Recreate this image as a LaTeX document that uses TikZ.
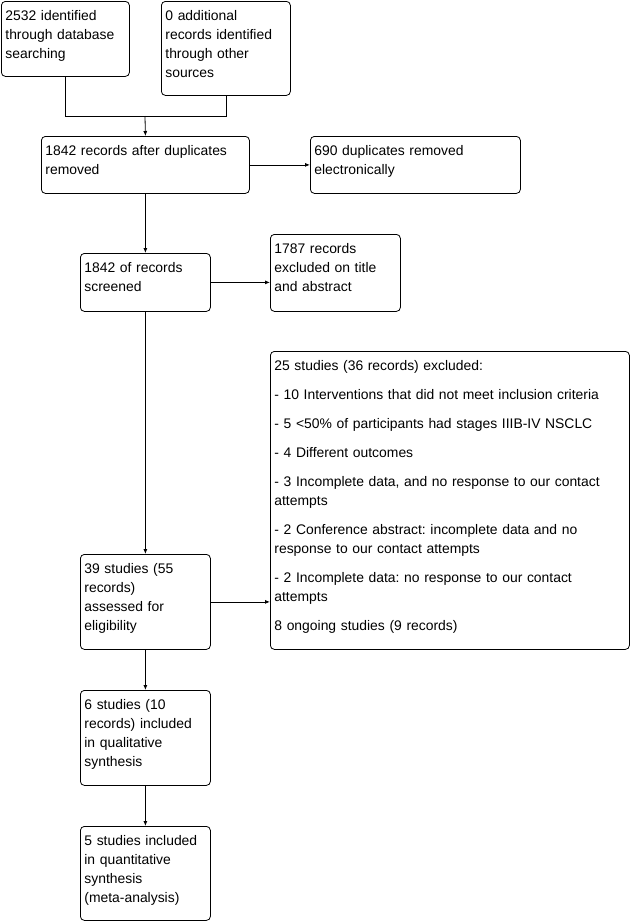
\documentclass[tikz,border=0pt]{standalone}
\usepackage{fontspec}
\setmainfont{Liberation Sans}
\usetikzlibrary{arrows.meta}
\frenchspacing

\begin{document}
\begin{tikzpicture}[x=1pt, y=-1pt,
    box/.style={draw, rounded corners=4pt, anchor=north west, inner xsep=4pt, inner ysep=4pt,
        align=left, text height=15pt, font=\fontsize{13.9}{19}\selectfont, line width=0.8pt},
    arr/.style={-{Latex[length=5pt,width=4pt]}, line width=0.8pt}]
    \useasboundingbox (0,0) rectangle (630,922);
    % identification
    \node[box, text width=120pt, text depth=52pt] (ident) at (1,1) {2532 identified\\through database\\searching};
    \node[box, text width=121pt, text depth=71pt] (other) at (161,1) {0 additional\\records identified\\through other\\sources};
    \node[box, text width=200pt, text depth=34pt] (dedup) at (41,136) {1842 records after duplicates\\removed};
    \node[box, text width=202pt, text depth=34pt] (dupl) at (310,136) {690 duplicates removed\\electronically};
    % screening
    \node[box, text width=122pt, text depth=35pt] (screen) at (80,253) {1842 of records\\screened};
    \node[box, text width=122pt, text depth=54pt] (exclA) at (270,234) {1787 records\\excluded on title\\and abstract};
    % eligibility
    \node[box, text width=351pt, text depth=275pt] (exclB) at (270,351) {25 studies (36 records) excluded:\\[10pt]
        - 10 Interventions that did not meet inclusion criteria\\[10pt]
        - 5 <50\% of participants had stages IIIB-IV NSCLC\\[10pt]
        - 4 Different outcomes\\[10pt]
        - 3 Incomplete data, and no response to our contact\\attempts\\[10pt]
        - 2 Conference abstract: incomplete data and no\\response to our contact attempts\\[10pt]
        - 2 Incomplete data: no response to our contact\\attempts\\[10pt]
        8 ongoing studies (9 records)};
    \node[box, text width=122pt, text depth=72pt] (elig) at (80,554) {39 studies (55\\records)\\assessed for\\eligibility};
    % included
    \node[box, text width=122pt, text depth=72pt] (qual) at (80,690) {6 studies (10\\records) included\\in qualitative\\synthesis};
    \node[box, text width=122pt, text depth=71pt] (quant) at (80,826) {5 studies included\\in quantitative\\synthesis\\(meta-analysis)};

    \coordinate (merge) at (145,116);
    \draw[line width=0.8pt] (ident.south) |- (merge);
    \draw[line width=0.8pt] (other.south) |- (merge);
    \draw[arr] (merge) -- (dedup.north);
    \draw[arr] (dedup.east) -- (dupl.west);
    \draw[arr] (dedup.south) -- (screen.north);
    \draw[arr] (screen.east) -- (screen.east -| exclA.west);
    \draw[arr] (screen.south) -- (elig.north);
    \draw[arr] (elig.east) -- (elig.east -| exclB.west);
    \draw[arr] (elig.south) -- (qual.north);
    \draw[arr] (qual.south) -- (quant.north);
\end{tikzpicture}
\end{document}
